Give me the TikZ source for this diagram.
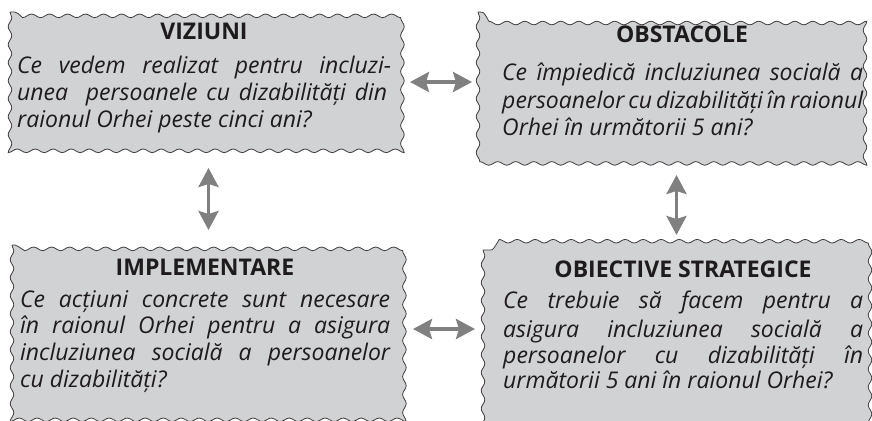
\documentclass[tikz,border=0pt]{standalone}
\usepackage{fontspec}
\setmainfont{Open Sans}
\usetikzlibrary{decorations.pathmorphing,arrows.meta,calc}
\definecolor{boxfill}{HTML}{D1D2D4}
\definecolor{arrowgray}{HTML}{808080}
\definecolor{ink}{HTML}{1E1B1C}
\newcommand\jline[2]{\makebox[#1][s]{#2}}
\tikzset{
  boxarea/.style={inner sep=0pt, outer sep=0pt},
  boxline/.style={draw=ink!85, line width=0.8pt, fill=boxfill, decorate,
    decoration={snake, amplitude=1.8pt, segment length=18pt}},
  titletext/.style={anchor=base, inner sep=0pt, text=ink,
    font=\fontsize{23}{27}\selectfont\bfseries},
  bodytext/.style={anchor=base west, inner sep=0pt, text=ink,
    font=\fontsize{23}{27}\selectfont\itshape},
  dblarrow/.style={draw=arrowgray, line width=3.5pt,
    {Stealth[length=19pt,width=20pt,inset=3pt]}-{Stealth[length=19pt,width=20pt,inset=3pt]}}
}
\begin{document}
\begin{tikzpicture}[x=1pt,y=-1pt]
\clip (0,0) rectangle (872,420);
\fill[white] (0,0) rectangle (872,420);
% box areas
\node[boxarea, minimum width=390pt, minimum height=140pt] (b1) at (205,82) {};
\node[boxarea, minimum width=392pt, minimum height=141pt] (b2) at (674,82.5) {};
\node[boxarea, minimum width=393pt, minimum height=172pt] (b3) at (208.5,331) {};
\node[boxarea, minimum width=387pt, minimum height=230pt] (b4) at (676.5,365) {};
\draw[boxline] (b1.north west) rectangle (b1.south east);
\draw[boxline] (b2.north west) rectangle (b2.south east);
\draw[boxline] (b3.north west) rectangle (b3.south east);
\draw[boxline] (b4.north west) rectangle (b4.south east);
% box 1
\node[titletext] (t1) at (204,40) {VIZIUNI};
\node[bodytext] (l11) at (17,74) {\jline{374pt}{Ce vedem realizat pentru incluzi-}};
\node[bodytext] (l12) at (17,100) {\jline{370pt}{unea \ persoanele cu dizabilități din}};
\node[bodytext] (l13) at (17,127) {raionul Orhei peste cinci ani?};
% box 2
\node[titletext] (t2) at (682,43) {OBSTACOLE};
\node[bodytext] (l21) at (502,80) {\jline{361pt}{Ce împiedică incluziunea socială a}};
\node[bodytext] (l22) at (502,108) {\jline{361pt}{persoanelor cu dizabilități în raionul}};
\node[bodytext] (l23) at (502,135) {Orhei în următorii 5 ani?};
% box 3
\node[titletext] (t3) at (205,275) {IMPLEMENTARE};
\node[bodytext] (l31) at (20,307) {\jline{370pt}{Ce acțiuni concrete sunt necesare}};
\node[bodytext] (l32) at (20,333) {\jline{370pt}{în raionul Orhei pentru a asigura}};
\node[bodytext] (l33) at (20,360) {\jline{370pt}{incluziunea socială a persoanelor}};
\node[bodytext] (l34) at (20,387) {cu dizabilități?};
% box 4
\node[titletext] (t4) at (683,277) {OBIECTIVE STRATEGICE};
\node[bodytext] (l41) at (503,308) {\jline{360pt}{Ce trebuie să facem pentru a}};
\node[bodytext] (l42) at (503,337) {\jline{360pt}{asigura incluziunea socială a}};
\node[bodytext] (l43) at (503,363) {\jline{360pt}{persoanelor cu dizabilități în}};
\node[bodytext] (l44) at (503,388) {următorii 5 ani în raionul Orhei?};
% arrows
\draw[dblarrow] ($(b1.east)+(10,0)$) -- ($(b2.west |- b1.east)+(-6,0)$);
\draw[dblarrow] ($(b3.east)+(8,-2)$) -- ($(b3.east -| b4.west)+(-8,-2)$);
\draw[dblarrow] ($(b1.south -| b3.north)+(0,16)$) -- ($(b3.north)+(0,-15)$);
\draw[dblarrow] ($(b2.south -| b4.north)+(0,22)$) -- ($(b4.north)+(0,-15)$);
\end{tikzpicture}
\end{document}
